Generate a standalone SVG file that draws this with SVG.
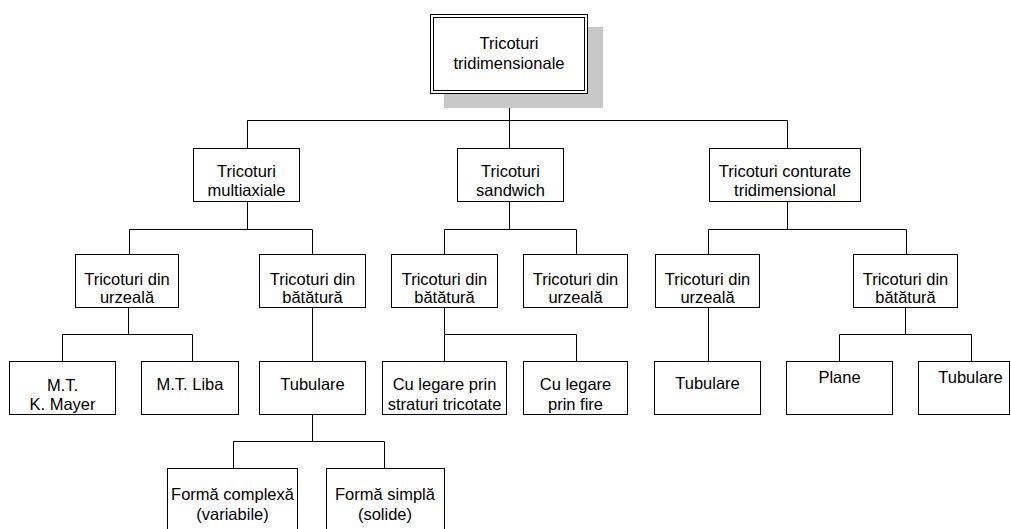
<svg xmlns="http://www.w3.org/2000/svg" width="1011" height="529" viewBox="0 0 1011 529">
<style>
.box{fill:#fff;stroke:#000;stroke-width:1}
.con{fill:none;stroke:#000;stroke-width:1}
text{font-family:"Liberation Sans",Arial,sans-serif;font-size:16.5px;fill:#000;text-anchor:middle}
</style>
<rect width="1011" height="529" fill="#fff"/>
<g id="connectors" class="con">
<path d="M509.5 93V120.5M247.5 148V120.5H787.5V148M509.5 120.5V148"/>
<path d="M247.5 201V229.5M129.5 254V229.5H312.5V254"/>
<path d="M509.5 201V229.5M444.5 254V229.5H576.5V254"/>
<path d="M787.5 201V229.5M708.5 254V229.5H906.5V254"/>
<path d="M128.5 307V334.5M62.5 361V334.5H192.5V361"/>
<path d="M312.5 307V361"/>
<path d="M444.5 307V334.5M444.5 361V334.5H576.5V361"/>
<path d="M708.5 307V361"/>
<path d="M905.5 307V334.5M839.5 361V334.5H971.5V361"/>
<path d="M312.5 414V441.5M233.5 468V441.5H384.5V468"/>
</g>
<g id="n-root">
<rect x="444" y="27" width="159" height="81" fill="#c8c8c8"/>
<rect class="box" x="430.5" y="14.5" width="157" height="79"/>
<rect class="box" x="433.5" y="17.5" width="151" height="73"/>
<text x="509" y="49">Tricoturi</text>
<text x="509" y="69">tridimensionale</text>
</g>
<g id="n-multiaxiale">
<rect class="box" x="193.5" y="148.5" width="106" height="53"/>
<text x="246.5" y="177">Tricoturi</text>
<text x="246.5" y="196">multiaxiale</text>
</g>
<g id="n-sandwich">
<rect class="box" x="457.5" y="148.5" width="106" height="53"/>
<text x="510.5" y="177">Tricoturi</text>
<text x="510.5" y="196">sandwich</text>
</g>
<g id="n-conturate">
<rect class="box" x="709.5" y="148.5" width="151" height="53"/>
<text x="785" y="177">Tricoturi conturate</text>
<text x="785" y="196">tridimensional</text>
</g>
<g id="n-urzeala-a">
<rect class="box" x="75.5" y="254.5" width="103" height="53"/>
<text x="127" y="285">Tricoturi din</text>
<text x="127" y="303">urzeală</text>
</g>
<g id="n-batatura-a">
<rect class="box" x="259.5" y="254.5" width="106" height="53"/>
<text x="312.5" y="285">Tricoturi din</text>
<text x="312.5" y="303">bătătură</text>
</g>
<g id="n-batatura-b">
<rect class="box" x="391.5" y="254.5" width="106" height="53"/>
<text x="444.5" y="285">Tricoturi din</text>
<text x="444.5" y="303">bătătură</text>
</g>
<g id="n-urzeala-b">
<rect class="box" x="523.5" y="254.5" width="104" height="53"/>
<text x="575.5" y="285">Tricoturi din</text>
<text x="575.5" y="303">urzeală</text>
</g>
<g id="n-urzeala-c">
<rect class="box" x="655.5" y="254.5" width="104" height="53"/>
<text x="707.5" y="285">Tricoturi din</text>
<text x="707.5" y="303">urzeală</text>
</g>
<g id="n-batatura-c">
<rect class="box" x="853.5" y="254.5" width="104" height="53"/>
<text x="905.5" y="285">Tricoturi din</text>
<text x="905.5" y="303">bătătură</text>
</g>
<g id="n-kmayer">
<rect class="box" x="9.5" y="361.5" width="106" height="53"/>
<text x="62.5" y="391">M.T.</text>
<text x="62.5" y="410">K. Mayer</text>
</g>
<g id="n-liba">
<rect class="box" x="141.5" y="361.5" width="97" height="53"/>
<text x="190" y="390">M.T. Liba</text>
</g>
<g id="n-tubulare-a">
<rect class="box" x="259.5" y="361.5" width="106" height="53"/>
<text x="312.5" y="390">Tubulare</text>
</g>
<g id="n-straturi">
<rect class="box" x="382.5" y="361.5" width="124" height="53"/>
<text x="444.5" y="390">Cu legare prin</text>
<text x="444.5" y="410">straturi tricotate</text>
</g>
<g id="n-fire">
<rect class="box" x="523.5" y="361.5" width="104" height="53"/>
<text x="575.5" y="390">Cu legare</text>
<text x="575.5" y="410">prin fire</text>
</g>
<g id="n-tubulare-c">
<rect class="box" x="654.5" y="361.5" width="106" height="53"/>
<text x="707.5" y="389">Tubulare</text>
</g>
<g id="n-plane">
<rect class="box" x="786.5" y="361.5" width="106" height="53"/>
<text x="839.5" y="383">Plane</text>
</g>
<g id="n-tubulare-d">
<rect class="box" x="918.5" y="361.5" width="91" height="53"/>
<text x="970.5" y="383">Tubulare</text>
</g>
<g id="n-complexa">
<rect class="box" x="167.5" y="468.5" width="130" height="70"/>
<text x="232.5" y="500">Formă complexă</text>
<text x="232.5" y="520">(variabile)</text>
</g>
<g id="n-simpla">
<rect class="box" x="326.5" y="468.5" width="118" height="70"/>
<text x="385" y="500">Formă simplă</text>
<text x="385" y="520">(solide)</text>
</g>
</svg>
